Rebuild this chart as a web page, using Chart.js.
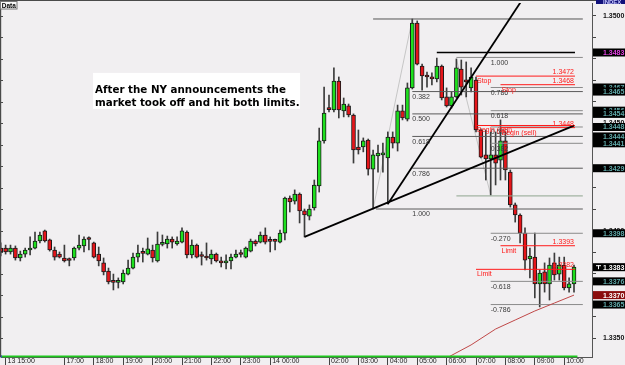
<!DOCTYPE html>
<html><head><meta charset="utf-8">
<script src="https://cdn.jsdelivr.net/npm/chart.js@4.4.1/dist/chart.umd.min.js"></script>
<style>html,body{margin:0;padding:0;background:#f1eff1;overflow:hidden}canvas{display:block}</style>
</head><body>
<canvas id="c" width="625" height="365"></canvas>
<script>
// ---- candle data (10-minute bars, index 0 = 13 14:50) ----
const opens = [1.33919,1.33919,1.33901,1.33919,1.33873,1.33891,1.33910,1.33919,1.33952,1.33999,
1.33957,1.33910,1.33891,1.33873,1.33863,1.33873,1.33919,1.33929,1.33961,1.33943,
1.33891,1.33850,1.33812,1.33761,1.33759,1.33761,1.33798,1.33826,1.33877,1.33896,
1.33891,1.33910,1.33859,1.33936,1.33938,1.33961,1.33938,1.33947,1.33994,1.33887,
1.33933,1.33882,1.33882,1.33868,1.33891,1.33859,1.33850,1.33859,1.33877,1.33891,
1.33877,1.33905,1.33952,1.33947,1.33980,1.33952,1.33952,1.33947,1.33989,1.34152,
1.34138,1.34171,1.34092,1.34068,1.34106,1.34208,1.34418,1.34567,1.34562,1.34697,
1.34558,1.34581,1.34539,1.34390,1.34390,1.34422,1.34287,1.34348,1.34353,1.34339,
1.34436,1.34408,1.34558,1.34520,1.34665,1.34967,1.34767,1.34721,1.34716,1.34707,
1.34767,1.34623,1.34581,1.34623,1.34753,1.34702,1.34665,1.34702,1.34469,1.34353,
1.34334,1.34353,1.34329,1.34418,1.34273,1.34120,1.34073,1.33989,1.33868,1.33877,
1.33752,1.33808,1.33752,1.33850,1.33798,1.33840,1.33733,1.33752];
const highs = [1.33943,1.33933,1.33933,1.33929,1.33905,1.33919,1.33971,1.33994,1.33994,1.34003,
1.33961,1.33924,1.33901,1.33933,1.33873,1.33924,1.33980,1.33971,1.33971,1.33947,
1.33924,1.33873,1.33826,1.33798,1.33780,1.33817,1.33863,1.33896,1.33933,1.33919,
1.33966,1.33933,1.33994,1.33980,1.33975,1.33971,1.33971,1.34013,1.33999,1.33957,
1.33938,1.33901,1.33943,1.33910,1.33896,1.33877,1.33887,1.33891,1.33910,1.33910,
1.33924,1.33961,1.33957,1.33994,1.34013,1.33971,1.33961,1.34003,1.34157,1.34162,
1.34190,1.34176,1.34101,1.34120,1.34236,1.34478,1.34669,1.34632,1.34758,1.34716,
1.34618,1.34590,1.34544,1.34469,1.34432,1.34427,1.34376,1.34399,1.34408,1.34460,
1.34460,1.34585,1.34585,1.34688,1.34986,1.34977,1.34776,1.34739,1.34735,1.34804,
1.34772,1.34665,1.34646,1.34800,1.34795,1.34786,1.34758,1.34716,1.34474,1.34469,
1.34460,1.34460,1.34516,1.34460,1.34283,1.34129,1.34078,1.34013,1.33919,1.33989,
1.33817,1.33850,1.33873,1.33896,1.33877,1.33877,1.33780,1.33840];
const lows = [1.33882,1.33891,1.33891,1.33863,1.33859,1.33877,1.33887,1.33915,1.33943,1.33947,
1.33905,1.33863,1.33873,1.33854,1.33836,1.33863,1.33910,1.33901,1.33910,1.33873,
1.33836,1.33794,1.33752,1.33724,1.33733,1.33752,1.33794,1.33822,1.33854,1.33854,
1.33887,1.33854,1.33854,1.33929,1.33919,1.33919,1.33933,1.33943,1.33873,1.33873,
1.33873,1.33840,1.33863,1.33845,1.33854,1.33831,1.33822,1.33822,1.33873,1.33877,
1.33873,1.33901,1.33929,1.33943,1.33938,1.33901,1.33910,1.33943,1.33957,1.34087,
1.34124,1.34036,1.33971,1.34050,1.34096,1.34180,1.34408,1.34553,1.34553,1.34525,
1.34530,1.34530,1.34315,1.34357,1.34367,1.34259,1.34101,1.34273,1.34273,1.34124,
1.34385,1.34371,1.34516,1.34511,1.34660,1.34772,1.34655,1.34669,1.34679,1.34693,
1.34609,1.34576,1.34571,1.34618,1.34632,1.34623,1.34646,1.34460,1.34339,1.34236,
1.34166,1.34213,1.34236,1.34236,1.34110,1.34040,1.33943,1.33817,1.33780,1.33687,
1.33645,1.33714,1.33677,1.33770,1.33770,1.33724,1.33714,1.33714];
const closes = [1.33901,1.33901,1.33919,1.33873,1.33891,1.33910,1.33919,1.33952,1.33980,1.33952,
1.33910,1.33877,1.33877,1.33859,1.33861,1.33919,1.33933,1.33961,1.33959,1.33877,
1.33859,1.33808,1.33761,1.33759,1.33761,1.33803,1.33826,1.33877,1.33896,1.33894,
1.33915,1.33873,1.33938,1.33938,1.33961,1.33947,1.33952,1.33999,1.33887,1.33933,
1.33877,1.33880,1.33873,1.33891,1.33859,1.33850,1.33859,1.33877,1.33891,1.33889,
1.33919,1.33952,1.33938,1.33980,1.33947,1.33950,1.33950,1.33989,1.34152,1.34134,
1.34171,1.34092,1.34073,1.34101,1.34213,1.34418,1.34548,1.34564,1.34697,1.34562,
1.34590,1.34539,1.34376,1.34376,1.34418,1.34287,1.34353,1.34362,1.34357,1.34436,
1.34408,1.34558,1.34525,1.34665,1.34967,1.34776,1.34721,1.34716,1.34707,1.34767,
1.34618,1.34581,1.34623,1.34758,1.34669,1.34693,1.34716,1.34469,1.34343,1.34334,
1.34353,1.34315,1.34418,1.34283,1.34120,1.34073,1.33989,1.33863,1.33882,1.33752,
1.33803,1.33752,1.33840,1.33794,1.33840,1.33733,1.33752,1.33831];

// ---- time axis ----
const hourTickIdx = [1,13,19,25,31,37,43,49,55,67,73,79,85,91,97,103,109,115];
const hourLabels = ['13 15:00','17:00','18:00','19:00','20:00','21:00','22:00','23:00','14 00:00',
  '02:00','03:00','04:00','05:00','06:00','07:00','08:00','09:00','10:00'];
const priceTicks = [1.335,1.336,1.337,1.338,1.339,1.340,1.341,1.342,1.343,1.344,1.345,1.346,1.347,1.348,1.349,1.350];
const labelledTicks = [1.335,1.340,1.345,1.350];

// ---- moving average (thin red line) ----
const maIdx = [91,96,101,105,109,113,117];
const maVals = [1.33407,1.33468,1.33542,1.33584,1.33626,1.33663,1.33700];

// ---- zigzag ----
const zigzag1 = [[76,1.34101],[84,1.34986]];
const zigzag2 = [[93,1.34800],[100,1.34166]];

// ---- trend lines ----
const trend1 = [[79,1.34124],[112,1.35269]];
const trend2 = [[62,1.33971],[117,1.34489]];

// ---- fibonacci 1 (c76 low -> c84 high) ----
const fib1Labels = ['0.382','0.500','0.618','0.786','1.000'];
const fib1Prices = [1.34648,1.34544,1.34439,1.34291,1.34101];
const fib1Top = 1.34986;
// ---- fibonacci 2 ----
const fib2Labels = ['1.000','0.786','0.618','0.500','0.382','-0.270','-0.618','-0.786'];
const fib2Prices = [1.34807,1.34667,1.34559,1.34483,1.34407,1.33988,1.33764,1.33656];
const fib2Zero = 1.34162;

// ---- horizontal black line ----
const resistance = 1.3483;

// ---- order lines ----
const orderStart = [97,97,97,102,102,102];
const orderPrices = [1.3472,1.3449,1.3382,1.3468,1.3448,1.3393];
const orderNames = ['Stop','Begin (sell)','Limit','Stop','Begin (sell)','Limit'];
const orderValueText = ['1.3472','','1.3382','1.3468','1.3448','1.3393'];

// ---- price boxes on the axis ----
const boxPrices = [1.3483,1.34667,1.34648,1.34559,1.34544,1.34483,1.34439,1.34407,1.34291,1.33988,1.33764,1.33656,1.3370,1.3383];
const boxTexts  = ['1.3483','1.3467','1.3465','1.3456','1.3454','1.3448','1.3444','1.3441','1.3429','1.3398','1.3376','1.3365','1.3370','1.3383'];
const boxKinds  = ['mag','fib','fib','fib','fib','fib','fib','fib','fib','fib','fib','fib','ma','bid'];

const noteLines = ['After the NY announcements the','market took off and hit both limits.'];

// ---------------------------------------------------------
const GREEN = '#1ee01e', RED = '#e5151a', BG = '#f1eff1';
const idx = opens.map((_, i) => i);
const LAST_X = 118.8, ORDER_END = 117.2;

function seg(points, color, width, order, dash) {
  return {type: 'line', data: points.map(p => ({x: p[0], y: p[1]})), borderColor: color,
    borderWidth: width, pointRadius: 0, tension: 0, fill: false, order: order || 0,
    borderDash: dash || []};
}
const datasets = [];
datasets.push({type: 'bar', data: idx.map(i => ({x: i, y: [opens[i], closes[i]]})),
  backgroundColor: idx.map(i => closes[i] >= opens[i] ? GREEN : RED),
  borderColor: '#1a1a1a', borderWidth: 1, borderSkipped: false, barThickness: 4,
  minBarLength: 2, grouped: false, order: 5});
datasets.push({type: 'bar', data: idx.map(i => ({x: i, y: [lows[i], highs[i]]})),
  backgroundColor: '#3c3c3c', borderWidth: 0, barThickness: 1, grouped: false, order: 6});
datasets.push(seg(zigzag1, '#c6c6c6', 1, 7));
datasets.push(seg(zigzag2, '#c6c6c6', 1, 7));
datasets.push(seg([[76, fib1Top], [LAST_X, fib1Top]], '#555', 1, 3));
fib1Prices.forEach((p, k) => datasets.push(seg([[k === 4 ? 76.6 : 84, p], [LAST_X, p]], '#5a5a5a', 1, 3)));
datasets.push(seg([[93, fib2Zero], [LAST_X, fib2Zero]], '#8ea58e', 1, 3));
fib2Prices.forEach((p, k) => datasets.push(seg([[k === 0 ? 93 : 100, p], [LAST_X, p]], '#8a8a8a', 1, 3)));
datasets.push(seg([[89, resistance], [ORDER_END, resistance]], '#000', 1.6, 2));
orderPrices.forEach((p, k) => datasets.push(seg([[orderStart[k], p], [ORDER_END, p]], '#ff1a1a', 1, 1)));
datasets.push(seg(maIdx.map((v, k) => [v, maVals[k]]), '#c04848', 1, 1));
datasets.push(seg(trend1, '#000', 1.8, 0));
datasets.push(seg(trend2, '#000', 1.8, 0));

const overlay = {
  id: 'overlay',
  beforeDraw(chart) {
    const c = chart.ctx; c.save(); c.fillStyle = BG; c.fillRect(0, 0, chart.width, chart.height); c.restore();
  },
  afterDatasetsDraw(chart) {
    const c = chart.ctx, X = chart.scales.x, Y = chart.scales.y;
    const xp = v => X.getPixelForValue(v), yp = v => Y.getPixelForValue(v);
    c.save();
    c.beginPath(); c.rect(chart.chartArea.left, chart.chartArea.top, chart.chartArea.right - chart.chartArea.left, chart.chartArea.bottom - chart.chartArea.top); c.clip();
    c.textBaseline = 'top'; c.textAlign = 'left';
    c.font = '7px "Liberation Sans"'; c.fillStyle = '#3a3a3a';
    fib1Labels.forEach((t, k) => c.fillText(t, xp(84), yp(fib1Prices[k]) + 2));
    fib2Labels.forEach((t, k) => c.fillText(t, xp(100), yp(fib2Prices[k]) + 2));
    c.fillStyle = '#ff1a1a';
    orderPrices.forEach((p, k) => {
      c.textAlign = 'left'; c.textBaseline = 'top';
      c.fillText(orderNames[k], xp(orderStart[k]) + 1, yp(p) + 1.5);
      if (orderValueText[k]) { c.textAlign = 'right'; c.textBaseline = 'bottom'; c.fillText(orderValueText[k], xp(ORDER_END) - 1, yp(p) - 0.5); }
    });
    const nx = xp(18.85), ny = yp(1.34735);
    c.fillStyle = '#ffffff'; c.fillRect(nx, ny, 207, 36);
    c.fillStyle = '#000'; c.font = 'bold 10.3px "DejaVu Sans"'; c.textAlign = 'left'; c.textBaseline = 'alphabetic';
    c.fillText(noteLines[0], nx + 2, ny + 20);
    c.fillText(noteLines[1], nx + 2, ny + 33.5);
    c.restore();
    c.save(); c.fillStyle = '#1dc81d';
    c.fillRect(0, chart.chartArea.bottom - 1.5, xp(117.7), 1.8);
    c.fillStyle = '#2a5bd8'; c.fillRect(0, chart.chartArea.bottom - 1.5, 2, 1.8);
    c.restore();
  },
  afterDraw(chart) {
    const c = chart.ctx, Y = chart.scales.y, ca = chart.chartArea;
    const yp = v => Y.getPixelForValue(v);
    c.save();
    c.fillStyle = '#4a4a4a';
    c.fillRect(0, 0, 596, 1);
    c.fillRect(0, 0, 1.2, ca.bottom);
    priceTicks.forEach(t => c.fillRect(1, Math.round(yp(t)), 2, 1));
    c.font = 'bold 7px "Liberation Sans"'; c.textBaseline = 'middle'; c.textAlign = 'left';
    boxPrices.forEach((p, k) => {
      const y = yp(p);
      const kind = boxKinds[k];
      c.fillStyle = kind === 'ma' ? '#8a0d0d' : '#000';
      c.fillRect(ca.right + 1, y - 4, 33, 8);
      c.fillStyle = kind === 'mag' ? '#e040e0' : kind === 'fib' ? '#5fa8a8' : '#ffffff';
      c.fillText(boxTexts[k], ca.right + 11, y + 0.5);
      if (kind === 'bid') { c.fillStyle = '#fff'; c.fillRect(ca.right + 4, y - 2, 5, 1); c.fillRect(ca.right + 6, y - 2, 1, 4); }
    });
    c.fillStyle = '#f8f8f8'; c.fillRect(0, 1, 17, 8);
    c.strokeStyle = '#777'; c.lineWidth = 1; c.strokeRect(0.5, 1.5, 16.5, 7.5);
    c.fillStyle = '#000'; c.font = 'bold 6.5px "Liberation Sans"'; c.textBaseline = 'alphabetic';
    c.fillText('Data', 1.8, 7.8);
    c.fillStyle = '#10107a'; c.fillRect(596, 0, 29, 4);
    c.fillStyle = '#c8c8ff'; c.font = 'bold 6px "Liberation Sans"'; c.fillText('INDEX', 603, 3.5);
    c.restore();
  }
};

const zeroPad = s => { s.paddingTop = 0; s.paddingBottom = 0; s.paddingLeft = 0; s.paddingRight = 0; };

const chart = new Chart(document.getElementById('c'), {
  type: 'bar',
  data: {datasets},
  plugins: [overlay],
  options: {
    responsive: false, animation: false, events: [],
    layout: {autoPadding: false, padding: {left: 1, top: 3, right: 0, bottom: 0}},
    plugins: {legend: {display: false}, tooltip: {enabled: false}},
    scales: {
      x: {
        type: 'linear', min: 0.0612, max: 120.673, offset: false,
        afterFit: s => { s.height = 8; zeroPad(s); },
        afterBuildTicks: s => { s.ticks = hourTickIdx.map(v => ({value: v})); },
        grid: {offset: false, drawOnChartArea: false, drawTicks: true, tickLength: 8, color: '#444', tickWidth: 1},
        border: {display: true, color: '#555', width: 1},
        ticks: {autoSkip: false, maxRotation: 0, align: 'start', labelOffset: 2, padding: -8,
          font: {family: 'Liberation Sans', size: 7}, color: '#222',
          callback: v => { const k = hourTickIdx.indexOf(v); return k >= 0 ? hourLabels[k] : ''; }}
      },
      y: {
        position: 'right', min: 1.334117, max: 1.350605,
        afterFit: s => { s.width = 33; zeroPad(s); },
        afterBuildTicks: s => { s.ticks = priceTicks.map(v => ({value: v})); },
        grid: {drawOnChartArea: false, drawTicks: true, tickLength: 4, color: '#444'},
        border: {display: true, color: '#555', width: 1},
        ticks: {padding: 7, font: {family: 'Liberation Sans', size: 7, weight: 'bold'}, color: '#111',
          callback: v => labelledTicks.some(t => Math.abs(t - v) < 1e-7) ? v.toFixed(4) : ''}
      }
    }
  }
});
</script>
</body></html>
